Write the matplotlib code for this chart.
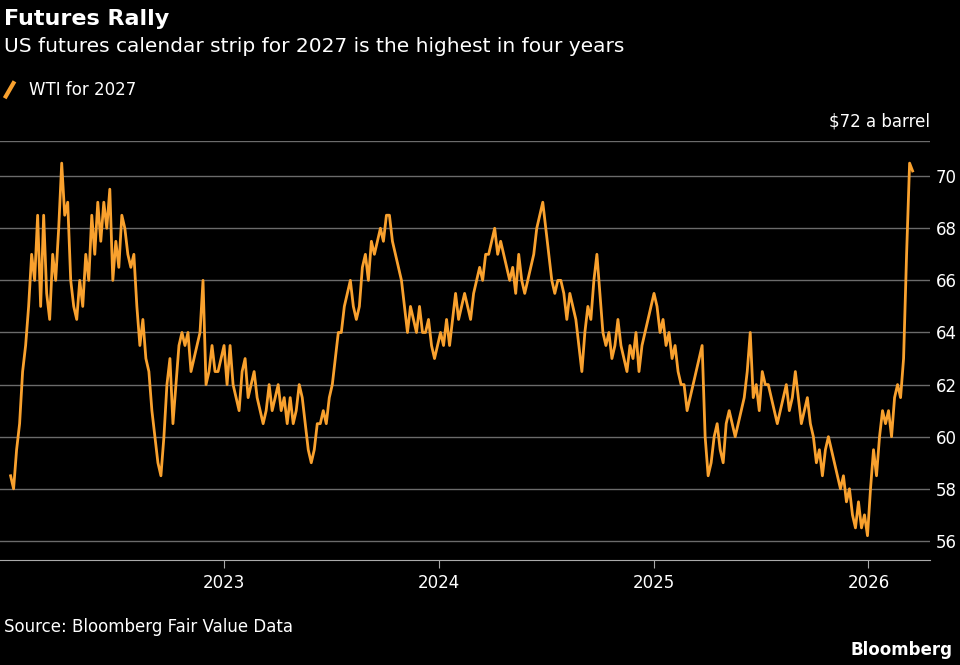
import matplotlib
matplotlib.use("Agg")
import matplotlib.pyplot as plt
import pandas as pd

values = [58.5,58,59.5,60.5,62.5,63.5,65,67,66,68.5,65,68.5,65.5,64.5,67,66,68,70.5,68.5,69,66,65,64.5,66,65,67,66,68.5,67,69,67.5,69,68,69.5,66,67.5,66.5,68.5,68,67,66.5,67,65,63.5,64.5,63,62.5,61,60,59,58.5,60,62,63,60.5,62,63.5,64,63.5,64,62.5,63,63.5,64,66,62,62.5,63.5,62.5,62.5,63,63.5,62,63.5,62,61.5,61,62.5,63,61.5,62,62.5,61.5,61,60.5,61,62,61,61.5,62,61,61.5,60.5,61.5,60.5,61,62,61.5,60.5,59.5,59,59.5,60.5,60.5,61,60.5,61.5,62,63,64,64,65,65.5,66,65,64.5,65,66.5,67,66,67.5,67,67.5,68,67.5,68.5,68.5,67.5,67,66.5,66,65,64,65,64.5,64,65,64,64,64.5,63.5,63,63.5,64,63.5,64.5,63.5,64.5,65.5,64.5,65,65.5,65,64.5,65.5,66,66.5,66,67,67,67.5,68,67,67.5,67,66.5,66,66.5,65.5,67,66,65.5,66,66.5,67,68,68.5,69,68,67,66,65.5,66,66,65.5,64.5,65.5,65,64.5,63.5,62.5,64,65,64.5,66,67,65.5,64,63.5,64,63,63.5,64.5,63.5,63,62.5,63.5,63,64,62.5,63.5,64,64.5,65,65.5,65,64,64.5,63.5,64,63,63.5,62.5,62,62,61,61.5,62,62.5,63,63.5,60,58.5,59,60,60.5,59.5,59,60.5,61,60.5,60,60.5,61,61.5,62.5,64,61.5,62,61,62.5,62,62,61.5,61,60.5,61,61.5,62,61,61.5,62.5,61.5,60.5,61,61.5,60.5,60,59,59.5,58.5,59.5,60,59.5,59,58.5,58,58.5,57.5,58,57,56.5,57.5,56.5,57,56.2,58,59.5,58.5,60,61,60.5,61,60,61.5,62,61.5,63,67,70.5,70.2]
dates = pd.date_range("2022-01-03", "2026-03-17", periods=len(values))

ticks = [56, 58, 60, 62, 64, 66, 68, 70]
years = ["2023", "2024", "2025", "2026"]

bg = "black"
orange = "#F9A12E"
fig = plt.figure(figsize=(9.6, 6.65), dpi=100, facecolor=bg)
ax = fig.add_axes([0.0, 0.158, 0.969, 0.63], facecolor=bg)
for t in ticks:
    ax.axhline(t, color="#6b6b6b", lw=1, zorder=1)
ax.axhline(71.35, color="#6b6b6b", lw=1, zorder=1)
ax.plot(dates, values, color=orange, lw=2.0, zorder=3)
ax.set_ylim(55.27, 71.35)
ax.set_xlim(pd.Timestamp("2021-12-16"), pd.Timestamp("2026-04-16"))
ax.yaxis.tick_right()
ax.set_yticks(ticks)
ax.set_yticklabels([str(t) for t in ticks], color="white", fontsize=12)
ax.tick_params(axis="y", length=0, pad=4)
ax.set_xticks([pd.Timestamp(y + "-01-01") for y in years])
ax.set_xticklabels(years, color="white", fontsize=12)
ax.tick_params(axis="x", color="#aaaaaa", length=6, pad=4)
for s in ["top", "left", "right"]:
    ax.spines[s].set_visible(False)
ax.spines["bottom"].set_color("#aaaaaa")
ax.text(1.0, 71.75, "$72 a barrel", color="white", fontsize=12, ha="right", va="bottom",
        transform=ax.get_yaxis_transform())

fig.text(0.004, 0.972, "Futures Rally", color="white", fontsize=16, fontweight="bold", va="center")
fig.text(0.004, 0.93, "US futures calendar strip for 2027 is the highest in four years",
         color="white", fontsize=14.5, va="center")
fig.lines.append(plt.Line2D([0.006, 0.014], [0.855, 0.875], color=orange, lw=3,
                            transform=fig.transFigure, figure=fig))
fig.text(0.03, 0.865, "WTI for 2027", color="white", fontsize=12, va="center")
fig.text(0.004, 0.057, "Source: Bloomberg Fair Value Data", color="white", fontsize=12, va="center")
fig.text(0.992, 0.022, "Bloomberg", color="white", fontsize=12, fontweight="bold", va="center", ha="right")
fig.savefig("out.png", dpi=100, facecolor=bg)
